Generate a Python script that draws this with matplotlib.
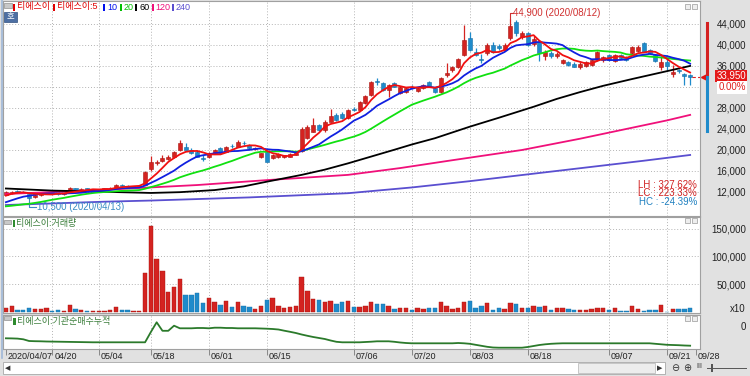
import numpy as np
import matplotlib
matplotlib.use('Agg')
import matplotlib.pyplot as plt
from matplotlib import font_manager
from matplotlib.patches import Rectangle

# narrow latin face for the numbers if there is one, Noto CJK picks up the hangul
names = set(f.name for f in font_manager.fontManager.ttflist)
num_font = 'Liberation Sans Narrow' if 'Liberation Sans Narrow' in names else 'Liberation Sans'
plt.rcParams['font.family'] = [num_font, 'Noto Sans CJK KR', 'DejaVu Sans']

# ---------------- data ----------------
tick_idx = [0, 8, 16, 25, 35, 45, 60, 70, 80, 90, 104, 114, 119]
tick_lbl = ['2020/04/07', '04/20', '05/04', '05/18', '06/01', '06/15', '07/06',
            '07/20', '08/03', '08/18', '09/07', '09/21', '09/28']

# closes of the 19 sessions before 04/07, only used to warm up the 5/10/20 averages
pre_close = [9800, 9400, 9000, 8600, 8200, 8000, 7600, 7400, 7900, 8200,
             8300, 8400, 8600, 9000, 9400, 10200, 11000, 11400, 11600]

open_ = [11400, 11700, 12100, 12000, 11500, 10900, 11300, 11550, 11850, 11700,
         11500, 11700, 12600, 12300, 12600, 12350, 12300, 12450, 12600, 12700,
         13350, 13150, 12900, 12950, 13300, 16300, 17400, 17800, 18200, 18700,
         19950, 20600, 20000, 19600, 18500, 18600, 19400, 20250, 19600, 20750,
         20600, 21300, 20900, 20200, 18700, 19600, 18400, 18550, 18700, 18700,
         19000, 19700, 22200, 23450, 24700, 23800, 25350, 26600, 26900, 26000,
         27800, 27600, 28900, 30450, 33100, 32700, 31400, 32700, 30800, 31100,
         31900, 31200, 31700, 32900, 31800, 31100, 34300, 35200, 35850, 38100,
         41250, 38700, 37400, 38400, 40000, 39800, 39050, 41300, 44300, 41600,
         42200, 40100, 40500, 37800, 38500, 37800, 36500, 36800, 36400, 35750,
         35900, 36200, 37150, 37150, 38050, 36850, 38000, 37500, 38400, 38800,
         40300, 39000, 38050, 35700, 36800, 34500, 35200, 34400, 34250]
high = [12100, 12150, 12300, 12100, 11600, 11500, 11700, 11900, 11950, 11750,
        11700, 12900, 12700, 12600, 12700, 12500, 12550, 12700, 12800, 13500,
        13400, 13200, 13100, 13150, 16000, 18800, 17950, 18900, 19000, 19800,
        21850, 21300, 20300, 19900, 18900, 19500, 20100, 20500, 20700, 21000,
        21800, 21600, 21100, 20500, 19400, 19700, 19100, 19400, 19000, 19400,
        19500, 24300, 24700, 26000, 25000, 25600, 27700, 27000, 27200, 27800,
        28200, 29300, 30400, 33200, 33700, 33000, 32600, 33000, 32100, 31900,
        32300, 32000, 32600, 33200, 32000, 33800, 36500, 36000, 37600, 43800,
        42500, 39500, 38200, 40300, 40600, 40200, 40300, 44900, 44800, 42600,
        42500, 41800, 41000, 39000, 38800, 38600, 37300, 37000, 36700, 36700,
        37000, 37300, 38900, 37900, 38300, 38200, 38200, 37800, 39800, 40000,
        40500, 39200, 38200, 37800, 37400, 36200, 35400, 34600, 34400]
low = [11300, 11600, 11900, 11700, 10500, 10850, 11250, 11500, 11600, 11400,
       11450, 11650, 12200, 12250, 12300, 12300, 12200, 12400, 12550, 12650,
       13000, 12850, 12850, 12900, 13250, 16000, 17100, 17600, 18000, 18500,
       19800, 19900, 19200, 18600, 17900, 18400, 19200, 19200, 19500, 20300,
       20500, 20900, 20200, 20000, 18500, 17600, 18200, 18400, 18500, 18600,
       18900, 19500, 22000, 23300, 23600, 23300, 25200, 25500, 25900, 25900,
       27300, 27400, 28700, 30300, 32400, 31200, 30100, 31900, 30600, 30900,
       31500, 31000, 31500, 31900, 30900, 30900, 33800, 34800, 35600, 37800,
       38800, 37800, 36500, 38000, 38500, 39000, 38800, 41000, 41800, 41200,
       39800, 39800, 37000, 37200, 37600, 37500, 36300, 36000, 35700, 35500,
       35700, 36000, 37000, 36800, 37000, 36700, 37300, 36900, 38200, 38600,
       38600, 38300, 36700, 35200, 35200, 33900, 34600, 32400, 32350]
close = [11950, 12000, 12000, 11800, 10800, 11400, 11600, 11800, 11700, 11550,
         11650, 12600, 12350, 12500, 12350, 12450, 12450, 12600, 12700, 13350,
         13150, 12950, 13000, 13050, 15800, 17700, 17650, 18500, 18700, 19550,
         21200, 20000, 19350, 18700, 18200, 19350, 19900, 19400, 20550, 20650,
         21500, 21200, 20300, 20400, 19300, 17750, 18950, 19150, 18900, 19250,
         19400, 23900, 24350, 24700, 23800, 25300, 26400, 25700, 26050, 27550,
         27650, 29150, 30200, 33000, 32950, 31400, 32350, 32050, 31900, 31700,
         31800, 31800, 32300, 32100, 31100, 33600, 34700, 35850, 37400, 40950,
         39050, 38100, 37150, 40000, 38700, 39350, 40000, 43700, 42250, 42200,
         40000, 41200, 38400, 38600, 37900, 38300, 37100, 36200, 35850, 36450,
         36750, 37100, 38650, 37750, 37150, 38050, 37500, 37200, 39650, 39700,
         38750, 38450, 36850, 36700, 35900, 34900, 34950, 34000, 33950]

# volume (x10 shares)
volume = [7000, 11000, 3500, 3500, 6500, 4500, 4500, 7000, 2000, 3000,
          1000, 12000, 5000, 3500, 1500, 1500, 2500, 2500, 3000, 9000,
          3500, 3500, 2500, 2500, 70000, 155000, 94500, 74000, 36000, 45000,
          58500, 30000, 30000, 33500, 16000, 25000, 17000, 12000, 19500, 9000,
          17000, 10000, 9000, 5000, 10500, 21500, 25000, 10000, 6500, 9000,
          10500, 62000, 38500, 24000, 21500, 17000, 20500, 15000, 18000, 19500,
          8000, 9500, 10500, 18000, 15000, 15000, 11500, 5500, 6500, 6500,
          4000, 7500, 5000, 6500, 6500, 17000, 10000, 5500, 6500, 17000,
          20500, 6500, 10000, 16000, 4000, 6500, 5000, 16000, 13500, 7500,
          7500, 10500, 9000, 10000, 4000, 6500, 6500, 4500, 3500, 3000,
          3000, 4500, 7500, 6500, 4000, 6500, 2000, 1000, 10000, 4500,
          2000, 4000, 4000, 12000, 500, 5000, 5000, 5000, 7500]

# slow moving averages read at sample sessions
ma60_i = [0, 8, 16, 25, 30, 36, 41, 45, 51, 55, 59, 63, 67, 70, 74, 80, 85, 91,
          95, 99, 103, 108, 114, 118]
ma60_v = [12600, 12200, 12000, 11750, 11900, 12300, 13000, 13900, 15200, 16200,
          17400, 18700, 20000, 21000, 22200, 24400, 26100, 28200, 29700, 31000,
          32200, 33500, 35000, 36000]
ma120_i = [0, 16, 33, 45, 59, 68, 77, 89, 99, 108, 114, 118]
ma120_v = [11550, 12300, 13260, 14200, 15200, 16500, 18000, 19950, 22100, 24200,
           25600, 26650]
ma240_i = [0, 17, 25, 42, 59, 70, 80, 90, 100, 110, 118]
ma240_v = [9450, 10080, 10300, 10900, 11700, 12800, 14000, 15300, 16600, 17900, 19000]

# institutional net buying, cumulative
inst = [-12300, -12400, -12600, -13300, -15000, -15200, -15300, -15500, -15600, -15700,
        -15800, -15900, -16000, -16100, -16200, -16300, -16300, -16300, -16300, -16300,
        -16300, -16300, -16300, -16300, -16300, -6000, 3700, -4800, -4800, 300,
        -2300, -2300, -2300, -2000, -2000, -2300, -1700, -1700, -2000, -2000,
        -2300, -2300, -2300, -2300, -2500, -2700, -3000, -3500, -4700, -5800,
        -7000, -8500, -9800, -11000, -12000, -13000, -14500, -15800, -16300, -16300,
        -16300, -16300, -16000, -15700, -15300, -15300, -15300, -15800, -16500, -17000,
        -17300, -17300, -17300, -17300, -17300, -17300, -17300, -17300, -17000, -17300,
        -17800, -18800, -19800, -20800, -21500, -21700, -21700, -21700, -21700, -21700,
        -21000, -20000, -19000, -18300, -17800, -17500, -17300, -17300, -17300, -17300,
        -17300, -17300, -17300, -17300, -17300, -17300, -17300, -17300, -17300, -17300,
        -17300, -17300, -17800, -18300, -18800, -19000, -19200, -19500, -19700]

hi_price, hi_date = 44900, '2020/08/12'
lo_price, lo_date = 10500, '2020/04/13'
hi_i, lo_i = 87, 4
last_price = 33950
range_bar = [44130, 33950, 23630]   # red / blue bar beside the price scale

# ---------------- figure ----------------
W, H = 750, 376
fig = plt.figure(figsize=(7.5, 3.76), dpi=100, facecolor='#e1e1e1')

def fx(px):
    return px / W

def fy(py):
    return 1 - py / H

def ftext(px, py, s, **kw):
    kw.setdefault('va', 'center')
    fig.text(fx(px), fy(py), s, **kw)

def fbox(px, py, w, h, **kw):
    fig.add_artist(Rectangle((fx(px), fy(py + h)), w / W, h / H,
                             transform=fig.transFigure, **kw))

def right_labels(a, ticks, labels):
    # labels right-aligned at x=746 px like the HTS price scale
    a.yaxis.tick_right()
    a.set_yticks(ticks)
    a.set_yticklabels(labels)
    a.tick_params(axis='y', right=False, labelright=True, length=0,
                  pad=46 * 0.72, labelsize=7, labelcolor='#222222')
    for t in a.get_yticklabels():
        t.set_ha('right')

L, R = 3, 700
ax = fig.add_axes([fx(L), fy(216), fx(R) - fx(L), fy(1) - fy(216)])
axv = fig.add_axes([fx(L), fy(313), fx(R) - fx(L), fy(217) - fy(313)])
axi = fig.add_axes([fx(L), fy(349), fx(R) - fx(L), fy(315) - fy(349)])

XL = (-0.5, 119.7)
grid_kw = dict(color='#b4b4b4', ls=(0, (1, 2)), lw=0.7, zorder=0)
for a in (ax, axv, axi):
    a.set_facecolor('white')
    a.set_xlim(XL)
    for s in a.spines.values():
        s.set_color('#a0a0a0')
        s.set_linewidth(0.8)
    a.tick_params(left=False, labelleft=False, bottom=False, labelbottom=False)
    for t in tick_idx[1:-1]:
        a.axvline(t, **grid_kw)

idx = np.arange(len(close))
o = np.array(open_)
h = np.array(high)
l = np.array(low)
c = np.array(close)
up = c >= o
RED, BLUE = '#d42320', '#1f8bcb'
col = np.where(up, RED, BLUE)
edge = np.where(up, '#a81410', '#176fa6')

# ---- price panel
ax.set_ylim(7350, 48390)
price_ticks = [12000, 16000, 20000, 24000, 28000, 32000, 36000, 40000, 44000]
for p in price_ticks:
    ax.axhline(p, **grid_kw)
shown = [p for p in price_ticks if p != 32000]   # 32,000 sits under the price box
right_labels(ax, shown, ['{:,}'.format(p) for p in shown])

ax.vlines(idx, l, h, colors=col, lw=0.9, zorder=2)
ax.bar(idx, np.maximum(np.abs(c - o), 100), bottom=np.minimum(o, c), width=0.7,
       color=col, edgecolor=edge, lw=0.4, zorder=2.5)

allc = np.array(pre_close + close, dtype=float)
for n, colr in [(20, '#10e010'), (10, '#1020e0'), (5, '#f01010')]:
    ma = np.convolve(allc, np.ones(n) / n, mode='valid')[-len(close):]
    ax.plot(idx, ma, color=colr, lw=1.3, zorder=3.5)
ax.plot(ma240_i, ma240_v, color='#5a4fd0', lw=1.3, zorder=3)
ax.plot(ma120_i, ma120_v, color='#f0107a', lw=1.3, zorder=3)
ax.plot(ma60_i, ma60_v, color='black', lw=1.3, zorder=3)

# current price dash, high / low labels
ax.plot([len(close) - 0.6, XL[1]], [last_price, last_price], color='#e02020',
        lw=0.8, ls=(0, (3, 2)), zorder=3)
ax.plot([hi_i, hi_i, hi_i + 0.4], [hi_price, 46040, 46040], color='#d03030', lw=0.8)
ax.text(hi_i + 0.5, 46040, '{:,} ({})'.format(hi_price, hi_date), color='#d03030',
        fontsize=7, va='center', ha='left')
ax.plot([lo_i, lo_i, lo_i + 1.2], [lo_price, 9120, 9120], color='#3a8cc4', lw=0.8)
ax.text(lo_i + 1.3, 9120, '{:,} ({})'.format(lo_price, lo_date), color='#3a8cc4',
        fontsize=7, va='center', ha='left')

lh = (hi_price - lo_price) / lo_price * 100
lc = (last_price - lo_price) / lo_price * 100
hc = (last_price - hi_price) / hi_price * 100
ftext(697, 184.5, 'LH : {:.2f}%'.format(lh), color='#d02020', fontsize=7, ha='right')
ftext(697, 193, 'LC : {:.2f}%'.format(lc), color='#d02020', fontsize=7, ha='right')
ftext(697, 201.5, 'HC : {:.2f}%'.format(hc), color='#2080c0', fontsize=7, ha='right')

# marker + bar beside the price scale
yt = ax.get_yaxis_transform()
ax.plot([1.0057], [last_price], marker='<', color='#e01010', ms=5, transform=yt, clip_on=False)
ax.plot([1.0096, 1.0096], range_bar[:2], color='#d42020', lw=2.2, transform=yt, clip_on=False)
ax.plot([1.0096, 1.0096], range_bar[1:], color='#1f8bcb', lw=2.2, transform=yt, clip_on=False)
ftext(746, 76, '{:,}'.format(last_price), color='white', fontsize=7, ha='right',
      bbox=dict(boxstyle='square,pad=0.15', fc='#e41a1a', ec='none'))
ftext(746, 87.5, '0.00%', color='#e02020', fontsize=7, ha='right',
      bbox=dict(boxstyle='square,pad=0.15', fc='white', ec='none'))

# legend row
leg = [(14, 17, '티에스이', '#e00000'), (54, 57, '티에스이:5', '#e00000'),
       (104, 107, '10', '#0010ee'), (120.5, 123.5, '20', '#00c000'),
       (136, 139, '60', '#000000'), (152.5, 155.5, '120', '#f0107a'),
       (172.5, 175.5, '240', '#5a4fd0')]
for mx, tx, s, colr in leg:
    fbox(mx - 1, 3.5, 2.2, 7, fc=colr, ec='none')
    ftext(tx, 7, s, color=colr, fontsize=6.5)
fbox(4, 3, 8, 5, fc='#c8c8c8', ec='#909090', lw=0.5)
fbox(4, 12, 13, 10, fc='#4d6fa3', ec='#30507f', lw=0.5)
ftext(10.5, 17, '호', color='white', fontsize=6, ha='center')

# ---- volume panel
axv.set_ylim(-1940, 170950)
for v in (50000, 100000, 150000):
    axv.axhline(v, **grid_kw)
axv.bar(idx, volume, width=0.75, color=col, edgecolor=edge, lw=0.3, zorder=2)
right_labels(axv, [50000, 100000, 150000], ['50,000', '100,000', '150,000'])
ftext(746, 309, 'x10', fontsize=7, ha='right', color='#222222')
fbox(4, 220, 7, 4, fc='#c8c8c8', ec='#909090', lw=0.5)
fbox(12.5, 219.5, 2.2, 7, fc='#2e8b2e', ec='none')
ftext(16, 223.3, '티에스이:거래량', color='#3a7d3a', fontsize=6.5)

# ---- institutional cumulative panel
axi.set_ylim(-23000, 11000)
axi.plot(idx, inst, color='#2b7a2b', lw=1.3, zorder=3)
right_labels(axi, [0], ['0'])
fbox(4, 316, 7, 4, fc='#c8c8c8', ec='#909090', lw=0.5)
fbox(13.5, 318, 2.2, 7, fc='#2e8b2e', ec='none')
ftext(17, 321.7, '티에스이:기관순매수누적', color='#3a7d3a', fontsize=6.5)

# panel buttons
for by in (4, 218, 316):
    for bx in (685, 692):
        fbox(bx, by, 5, 5, fc='#eeeeee', ec='#9a9a9a', lw=0.5)

# date axis
axi.set_xticks(tick_idx)
axi.tick_params(axis='x', bottom=True, length=4, width=0.7, color='#888888', direction='out')
xt = axi.get_xaxis_transform()
for t, s in zip(tick_idx, tick_lbl):
    axi.text(t + 0.35, -0.1, s, transform=xt, fontsize=6.5, color='#222222',
             ha='left', va='top', clip_on=False)

# scroll bar along the bottom
fbox(3, 362, 662, 12, fc='white', ec='#a8a8a8', lw=0.6)
fbox(578, 363, 77, 10, fc='#ededed', ec='#b4b4b4', lw=0.5)
ftext(8, 368, '◀', fontsize=5, color='#333333', ha='center', family='DejaVu Sans')
ftext(660, 368, '▶', fontsize=5, color='#333333', ha='center', family='DejaVu Sans')
ftext(675, 368, '⊖', fontsize=7, color='#333333', ha='center', family='DejaVu Sans')
ftext(687, 368, '⊕', fontsize=7, color='#333333', ha='center', family='DejaVu Sans')
ftext(699, 366, 'lll', fontsize=5, color='#333333', ha='center', family='DejaVu Sans')
fig.add_artist(plt.Line2D([fx(707), fx(746)], [fy(368), fy(368)], color='#555555', lw=0.7,
                          transform=fig.transFigure))
fbox(711, 364, 2, 8, fc='#555555', ec='none')
fig.add_artist(plt.Line2D([fx(1.5), fx(1.5)], [fy(0), fy(358)], color='#9fb8d8', lw=1.2,
                          transform=fig.transFigure))

fig.savefig('out.png', dpi=100, facecolor=fig.get_facecolor())
